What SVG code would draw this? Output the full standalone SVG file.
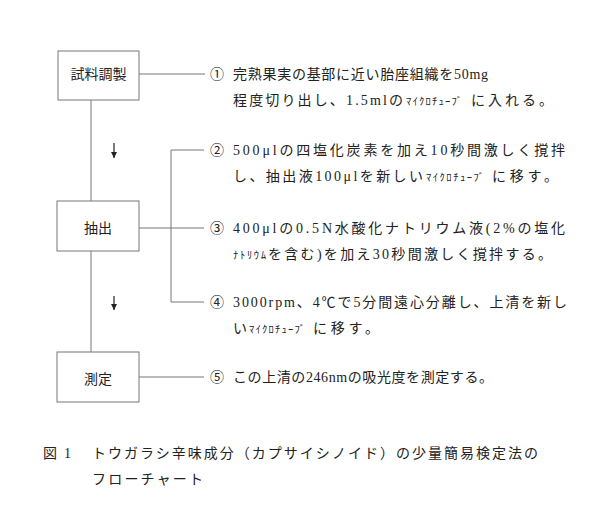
<svg xmlns="http://www.w3.org/2000/svg" width="595" height="521" viewBox="0 0 595 521">
<defs>
<style>
.t{font-family:"Liberation Serif","Noto Sans CJK JP",serif;font-size:14px;fill:#222;}
.k{font-size:10.5px;}
.b{fill:#fff;stroke:#777;stroke-width:1;}
.c{fill:none;stroke:#777;stroke-width:1;}
.a{fill:none;stroke:#222;stroke-width:1.2;}
</style>
<marker id="ah" viewBox="0 0 6 6" refX="6" refY="3" markerWidth="6" markerHeight="6" orient="auto" markerUnits="userSpaceOnUse">
<path d="M0,0 L6,3 L0,6 Z" fill="#222"/>
</marker>
</defs>
<rect width="595" height="521" fill="#fff"/>
<g id="connectors">
<path class="c" d="M91,100 V201"/>
<path class="c" d="M91,251 V352"/>
<path class="c" d="M139,74 H205"/>
<path class="c" d="M139,228 H204"/>
<path class="c" d="M139,377 H204"/>
<path class="c" d="M204,150 H171 V302 H204"/>
<path class="a" d="M114,143 V158" marker-end="url(#ah)"/>
<path class="a" d="M114,296 V310" marker-end="url(#ah)"/>
</g>
<g id="node-shiryo">
<rect class="b" x="58" y="51" width="81" height="49"/>
<text class="t" x="98.5" y="79" text-anchor="middle">試料調製</text>
</g>
<g id="node-chushutsu">
<rect class="b" x="57" y="201" width="82" height="50"/>
<text class="t" x="98" y="233" text-anchor="middle">抽出</text>
</g>
<g id="node-sokutei">
<rect class="b" x="57" y="352" width="82" height="50"/>
<text class="t" x="98" y="384" text-anchor="middle">測定</text>
</g>
<g id="step1">
<text class="t" x="210" y="79">①</text>
<text class="t" x="233" y="79" textLength="255" lengthAdjust="spacing">完熟果実の基部に近い胎座組織を50mg</text>
<text class="t" x="233" y="105" textLength="170" lengthAdjust="spacing">程度切り出し、1.5mlの</text>
<text class="t k" x="406" y="105" textLength="56" lengthAdjust="spacing">ﾏｲｸﾛﾁｭｰﾌﾞ</text>
<text class="t" x="471" y="105" textLength="82" lengthAdjust="spacing">に入れる。</text>
</g>
<g id="step2">
<text class="t" x="210" y="155">②</text>
<text class="t" x="233" y="155" textLength="332" lengthAdjust="spacing">500μlの四塩化炭素を加え10秒間激しく撹拌</text>
<text class="t" x="233" y="181" textLength="190" lengthAdjust="spacing">し、抽出液100μlを新しい</text>
<text class="t k" x="426" y="181" textLength="58" lengthAdjust="spacing">ﾏｲｸﾛﾁｭｰﾌﾞ</text>
<text class="t" x="492" y="181" textLength="66" lengthAdjust="spacing">に移す。</text>
</g>
<g id="step3">
<text class="t" x="210" y="233">③</text>
<text class="t" x="233" y="233" textLength="332" lengthAdjust="spacing">400μlの0.5N水酸化ナトリウム液(2%の塩化</text>
<text class="t k" x="233" y="259" textLength="33" lengthAdjust="spacing">ﾅﾄﾘｳﾑ</text>
<text class="t" x="268" y="259" textLength="284" lengthAdjust="spacing">を含む)を加え30秒間激しく撹拌する。</text>
</g>
<g id="step4">
<text class="t" x="210" y="307">④</text>
<text class="t" x="233" y="307" textLength="334" lengthAdjust="spacing">3000rpm、4℃で5分間遠心分離し、上清を新し</text>
<text class="t" x="233" y="333">い</text>
<text class="t k" x="249" y="333" textLength="56" lengthAdjust="spacing">ﾏｲｸﾛﾁｭｰﾌﾞ</text>
<text class="t" x="313" y="333" textLength="66" lengthAdjust="spacing">に移す。</text>
</g>
<g id="step5">
<text class="t" x="210" y="382">⑤</text>
<text class="t" x="233" y="382" textLength="260" lengthAdjust="spacing">この上清の246nmの吸光度を測定する。</text>
</g>
<g id="caption">
<text class="t" x="43" y="458" textLength="28" lengthAdjust="spacing">図1</text>
<text class="t" x="92" y="458" textLength="446" lengthAdjust="spacing">トウガラシ辛味成分（カプサイシノイド）の少量簡易検定法の</text>
<text class="t" x="92" y="484" textLength="111" lengthAdjust="spacing">フローチャート</text>
</g>
</svg>
